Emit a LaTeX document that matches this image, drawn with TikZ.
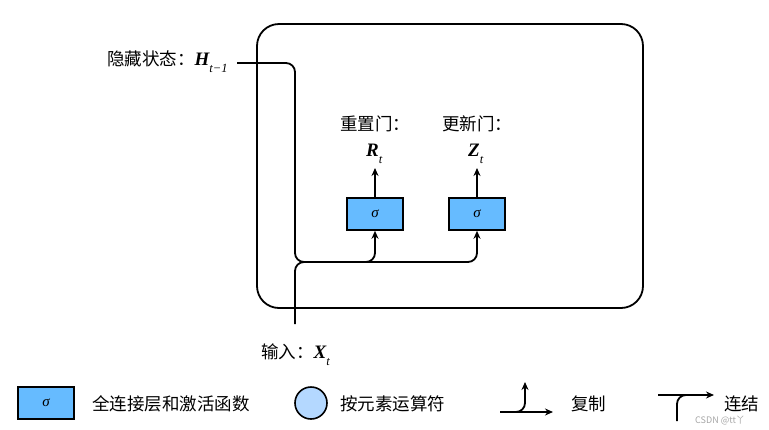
\documentclass[tikz,border=0pt]{standalone}
\usepackage{fontspec}
\setmainfont{Noto Sans CJK SC}
\newfontfamily\lsf{Liberation Serif}
\usetikzlibrary{arrows.meta}
\definecolor{gatefill}{RGB}{102,187,255}
\definecolor{opfill}{RGB}{180,216,255}
\newcommand{\vsub}[2]{{\fontsize{19}{22}\selectfont\lsf\bfseries\itshape #1}\raisebox{-7pt}{\fontsize{12.5}{13}\selectfont\lsf\itshape #2}}
\newcommand{\sig}{{\lsf\itshape σ}}
\tikzset{
  wire/.style={line width=1.8pt, line join=round},
  arr/.style={wire, -{Stealth[length=8pt,width=7pt]}},
  gate/.style={draw, line width=1.6pt, fill=gatefill, minimum width=56pt, minimum height=32pt, inner sep=0pt, font=\fontsize{15}{18}\selectfont},
  lbl/.style={inner sep=0pt, font=\fontsize{17.5}{20}\selectfont},
  cell/.style={draw, line width=1.8pt, rounded corners=22pt, minimum width=386pt, minimum height=284pt, inner sep=0pt},
}
\begin{document}
\begin{tikzpicture}[x=1pt,y=-1pt]
\useasboundingbox (0,0) rectangle (769,429);
% cell
\node[cell] (cell) at (450,166) {};
% gates
\node[gate] (r) at (375,214) {\sig};
\node[gate] (z) at (477,214) {\sig};
% labels
\node[lbl, anchor=base west] (hlab) at (107,65) {隐藏状态：\vsub{H}{t−1}};
\node[lbl, anchor=base west] (xlab) at (261,358) {输入：\vsub{X}{t}};
\node[lbl, anchor=base west] (rname) at (340,130) {重置门：};
\node[lbl, anchor=base west] (zname) at (442,130) {更新门：};
\node[lbl, anchor=base west] (rout) at (366,156) {\vsub{R}{t}};
\node[lbl, anchor=base west] (zout) at (468,156) {\vsub{Z}{t}};
% coordinates
\coordinate (hin) at (237,63);
\coordinate (j) at (295,262);
\coordinate (xin) at (295,324);
\coordinate (rtip) at (375,168);
\coordinate (ztip) at (477,168);
% wires
\draw[arr, rounded corners=9pt] (hin) -| (j) -| (r.south);
\draw[arr, rounded corners=9pt] (xin) -- (j) -| (z.south);
\draw[arr] (r.north) -- (rtip);
\draw[arr] (z.north) -- (ztip);
% legend
\node[gate] (lgate) at (46,403) {\sig};
\node[lbl, anchor=base west] (lgtxt) at (92,410) {全连接层和激活函数};
\node[draw, circle, line width=1.6pt, fill=opfill, minimum size=32pt, inner sep=0pt] (lop) at (311,403) {};
\node[lbl, anchor=base west] (loptxt) at (340,410) {按元素运算符};
\coordinate (cpl) at (500,412);
\coordinate (cpr) at (553,412);
\coordinate (cpt) at (525,382);
\draw[arr] (cpl) -- (cpr);
\draw[arr, rounded corners=9pt] (cpl) -| (cpt);
\node[lbl, anchor=base west] (cptxt) at (571,410) {复制};
\coordinate (cnl) at (658,395);
\coordinate (cnr) at (714,395);
\coordinate (cnb) at (677,421);
\coordinate (cnm) at (695,395);
\draw[arr] (cnl) -- (cnr);
\draw[wire, rounded corners=9pt] (cnb) |- (cnm);
\node[lbl, anchor=base west] (cntxt) at (724,410) {连结};
\node[inner sep=0pt, anchor=west, text=gray!70, font=\fontsize{9}{10}\selectfont] (wm) at (695,421) {CSDN @tt丫};
\end{tikzpicture}
\end{document}
